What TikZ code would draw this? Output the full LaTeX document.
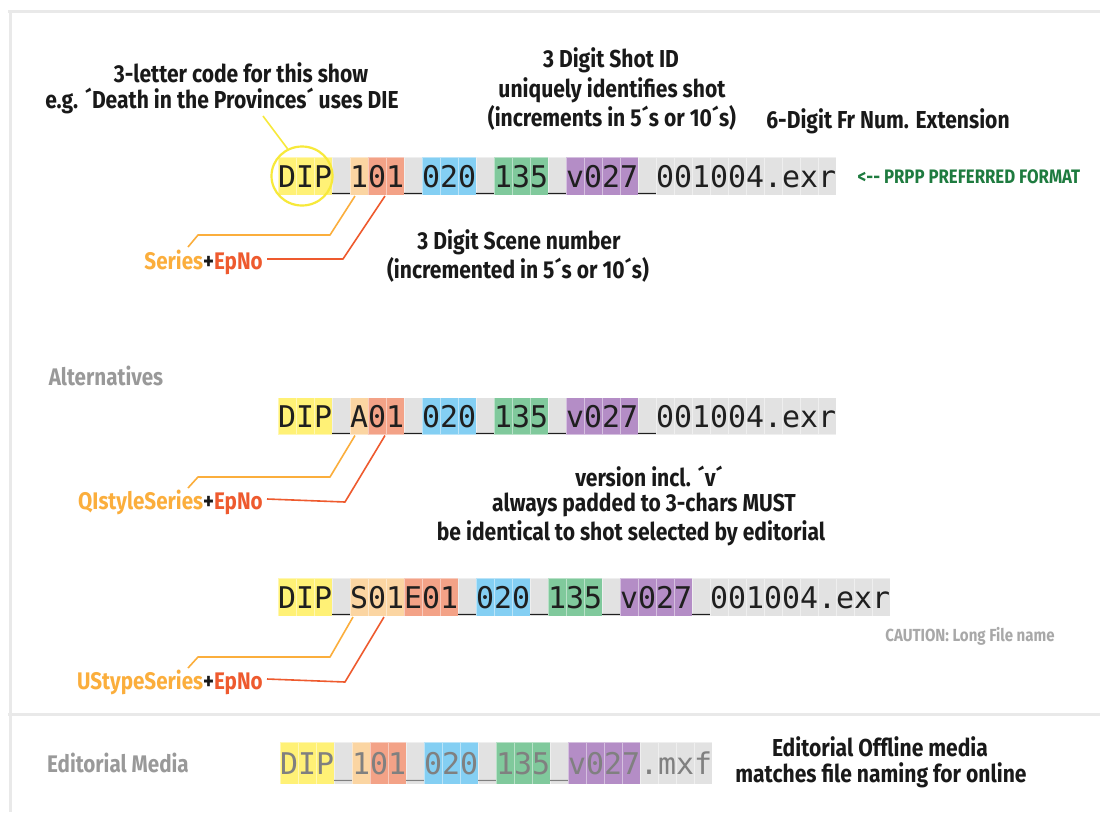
\documentclass[tikz,border=0pt]{standalone}
\usepackage{fontspec}
\usetikzlibrary{shapes.geometric,calc}
\newfontfamily\hand{Fira Sans}[FakeStretch=0.86]
\newfontfamily\monof{DejaVu Sans Mono}
\definecolor{cy}{HTML}{FFF176}
\definecolor{co}{HTML}{FBD5A2}
\definecolor{cs}{HTML}{F3A287}
\definecolor{cb}{HTML}{84CFF3}
\definecolor{cgr}{HTML}{80C99C}
\definecolor{cp}{HTML}{B48DC6}
\definecolor{cg}{HTML}{E2E2E2}
\definecolor{orangeL}{HTML}{FBAE3C}
\definecolor{redL}{HTML}{EE5A2E}
\definecolor{greenT}{HTML}{1E7B3F}
\definecolor{grayT}{HTML}{999999}
\definecolor{frameG}{HTML}{E9E9E9}
\definecolor{circY}{HTML}{F7E93A}
\tikzset{
  cellbox/.style={fill=#1, draw=white, draw opacity=0.45, line width=0.6pt, minimum width=18pt, inner sep=0, outer sep=0},
  hand/.style={font=\hand\bfseries\fontsize{24.5}{26}\selectfont, inner sep=0, text=black!90},
  handlab/.style={font=\hand\bfseries\fontsize{24}{26}\selectfont, inner sep=0, text=black!90, anchor=east},
  handgray/.style={font=\hand\bfseries\fontsize{24}{26}\selectfont, inner sep=0, text=grayT},
  fname/.style={font=\monof\fontsize{29.9}{30}\selectfont, inner sep=0, anchor=base west, text=black!88},
  frameline/.style={draw=frameG, line width=3pt},
  oline/.style={draw=orangeL, line width=1.6pt, line join=round},
  rline/.style={draw=redL, line width=1.6pt, line join=round},
}
\begin{document}
\begin{tikzpicture}[x=1pt,y=-1pt]
\useasboundingbox (0,0) rectangle (1100,812);
\fill[white] (0,0) rectangle (1100,812);
% frame
\draw[frameline] (8,11) -- (1100,11);
\draw[frameline] (10,11) -- (10,812);
\draw[frameline] (8,714) -- (1100,714);

% ---------- row 1
\foreach \c [count=\i from 0] in {cy,cy,cy,cg,co,cs,cs,cg,cb,cb,cb,cg,cgr,cgr,cgr,cg,cp,cp,cp,cp,cg,cg,cg,cg,cg,cg,cg,cg,cg,cg,cg}
  \node[cellbox=\c, minimum height=38pt] (ra\i) at (278+18*\i+9,176) {};
\node[fname] (fa) at (278,187) {DIP\_101\_020\_135\_v027\_001004.exr};
\node[draw=circY, line width=2.2pt, ellipse, minimum width=61pt, minimum height=59pt, inner sep=0] (circ) at (302,176) {};
\coordinate (qa) at (263,116);
\draw[draw=circY, line width=1.6pt] (qa) -- (circ.118);

\node[hand] (a1) at (241,73) {3-letter code for this show};
\node[hand] (a2) at (222,101) {e.g. ´Death in the Provinces´ uses DIE};
\node[hand] (b1) at (611,60) {3 Digit Shot ID};
\node[hand] (b2) at (612,90) {uniquely identifies shot};
\node[hand] (b3) at (612,118) {(increments in 5´s or 10´s)};
\node[hand] (c1) at (888,121) {6-Digit Fr Num. Extension};
\node[font=\hand\bfseries\fontsize{19.5}{22}\selectfont, inner sep=0, text=greenT] (gf) at (969,177) {<-{}- PRPP PREFERRED FORMAT};
\node[hand] (d1) at (519,242) {3 Digit Scene number};
\node[hand] (d2) at (518,270) {(incremented in 5´s or 10´s)};
\node[handlab] (la) at (263,262) {\textcolor{orangeL}{Series}+\textcolor{redL}{EpNo}};
\draw[oline] ($(ra4.south)+(-4,1)$) -- (330,235) -- (198,235) -- (188,247);
\draw[rline] ($(ra5.south east)+(-1,1)$) -- (343,259) -- ($(la.east)+(4,-3)$);

% ---------- alternatives
\node[handgray] (alt) at (106,376) {Alternatives};

% ---------- row 2
\foreach \c [count=\i from 0] in {cy,cy,cy,cg,co,cs,cs,cg,cb,cb,cb,cg,cgr,cgr,cgr,cg,cp,cp,cp,cp,cg,cg,cg,cg,cg,cg,cg,cg,cg,cg,cg}
  \node[cellbox=\c, minimum height=37pt] (rb\i) at (278+18*\i+9,416) {};
\node[fname] (fb) at (278,427) {DIP\_A01\_020\_135\_v027\_001004.exr};
\node[handlab] (lb) at (263,502) {\textcolor{orangeL}{QIstyleSeries}+\textcolor{redL}{EpNo}};
\draw[oline] ($(rb4.south)+(-4,1)$) -- (330,477) -- (198,477) -- (188,488);
\draw[rline] ($(rb5.south east)+(-1,1)$) -- (345,502) -- ($(lb.east)+(4,-3)$);

\node[hand] (v1) at (649,476) {version incl. ´v´};
\node[hand] (v2) at (644,505) {always padded to 3-chars MUST};
\node[hand] (v3) at (631,533) {be identical to shot selected by editorial};

% ---------- row 3
\foreach \c [count=\i from 0] in {cy,cy,cy,cg,co,co,co,cs,cs,cs,cg,cb,cb,cb,cg,cgr,cgr,cgr,cg,cp,cp,cp,cp,cg,cg,cg,cg,cg,cg,cg,cg,cg,cg,cg}
  \node[cellbox=\c, minimum height=38pt] (rc\i) at (278+18*\i+9,597) {};
\node[fname] (fc) at (278,608) {DIP\_S01E01\_020\_135\_v027\_001004.exr};
\node[font=\hand\bfseries\fontsize{17.5}{20}\selectfont, inner sep=0, text=grayT!85] (caut) at (970,636) {CAUTION: Long File name};
\node[handlab] (lc) at (263,682) {\textcolor{orangeL}{UStypeSeries}+\textcolor{redL}{EpNo}};
\draw[oline] ($(rc4.south)+(-6,1)$) -- (330,657) -- (198,657) -- (188,668);
\draw[rline] ($(rc5.south east)+(-2,1)$) -- (345,682) -- ($(lc.east)+(4,-3)$);

% ---------- editorial media
\node[handgray] (ed) at (118,763) {Editorial Media};
\foreach \c [count=\i from 0] in {cy,cy,cy,cg,co,cs,cs,cg,cb,cb,cb,cg,cgr,cgr,cgr,cg,cp,cp,cp,cp,cg,cg,cg,cg}
  \node[cellbox=\c, minimum height=42pt] (rd\i) at (280+18*\i+9,763) {};
\node[fname, text=black!50] (fd) at (280,774) {DIP\_101\_020\_135\_v027.mxf};
\node[hand] (e1) at (880,747) {Editorial Offline media};
\node[hand] (e2) at (881,775) {matches file naming for online};
\end{tikzpicture}
\end{document}
